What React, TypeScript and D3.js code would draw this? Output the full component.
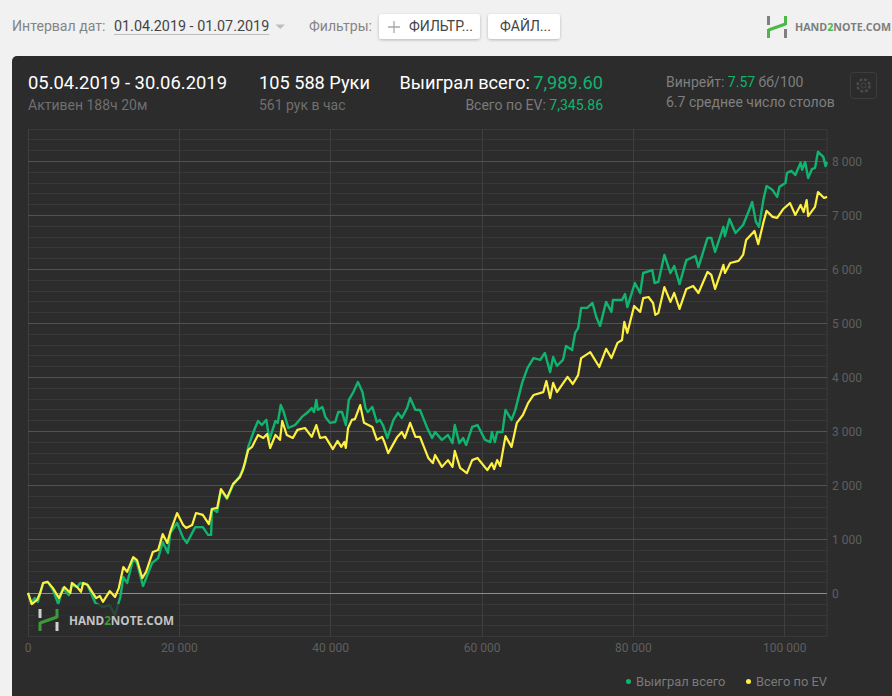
import { useEffect, useRef } from 'react';
import * as d3 from 'd3';

// Hands played (thousands) and winnings
const wonHands = [0, 0.4, 0.9, 1.3, 2.0, 2.6, 3.3, 4.0, 4.6, 5.4, 5.8, 6.5, 6.9, 7.8, 8.9, 9.9, 10.8, 11.5, 12.2, 12.6, 13.1, 13.9, 14.4, 15.2, 16.4, 17.2, 17.8, 18.5, 18.8, 19.7, 20.5, 21.0, 22.1, 23.1, 23.8, 24.2, 24.3, 25.0, 25.5, 26.3, 27.1, 28.0, 28.7, 29.1, 30.0, 30.4, 30.9, 31.5, 31.9, 32.7, 33.0, 33.4, 33.8, 34.4, 35.3, 36.2, 37.0, 37.5, 37.8, 38.1, 38.3, 38.9, 39.3, 39.9, 40.6, 41.0, 41.5, 42.0, 42.4, 43.0, 43.6, 44.2, 44.6, 44.9, 45.5, 46.1, 46.5, 46.9, 47.5, 48.3, 48.9, 49.4, 50.1, 50.5, 51.2, 51.8, 52.7, 53.4, 53.8, 54.7, 55.5, 56.1, 56.4, 57.0, 57.5, 57.9, 58.7, 59.4, 60.4, 61.1, 61.3, 61.7, 62.0, 62.7, 63.1, 63.9, 64.4, 65.3, 66.0, 66.8, 67.7, 68.3, 69.0, 69.4, 69.9, 70.7, 71.1, 71.9, 72.3, 72.7, 73.1, 73.9, 74.6, 75.1, 75.6, 76.4, 77.1, 77.3, 78.5, 78.9, 79.2, 80.2, 80.9, 81.3, 82.5, 82.8, 83.3, 84.1, 84.9, 85.4, 86.1, 87.0, 88.2, 88.6, 89.8, 90.3, 90.8, 91.9, 92.1, 92.7, 93.5, 94.5, 95.2, 95.7, 96.2, 96.6, 97.2, 97.6, 98.4, 99.0, 99.3, 100.1, 100.3, 100.9, 101.4, 102.1, 102.3, 102.7, 103.1, 103.6, 104.0, 104.4, 105.1, 105.4, 105.6];
const wonValues = [10, -175, -85, -155, 195, 215, 65, -195, 100, -30, 155, 120, 195, 175, -175, -250, -215, -400, -65, 305, 195, 640, 565, 140, 565, 655, 955, 750, 1120, 1305, 1030, 935, 1230, 1230, 1085, 1085, 1565, 1510, 1915, 1750, 2010, 2175, 2415, 2715, 3065, 3195, 3120, 3215, 2845, 3195, 3160, 3490, 3360, 3065, 3120, 3270, 3360, 3435, 3360, 3585, 3400, 3455, 3270, 3160, 3175, 3360, 3360, 3120, 3585, 3730, 3915, 3730, 3435, 3360, 3455, 3175, 3215, 3120, 2880, 3215, 3345, 3250, 3435, 3620, 3400, 3400, 3085, 2880, 2990, 2845, 2935, 2785, 3120, 2785, 2880, 2750, 3085, 3120, 2845, 2805, 2990, 2805, 2990, 2990, 3400, 3215, 3400, 3900, 4175, 4360, 4325, 4455, 4100, 4380, 4215, 4325, 4585, 4510, 4825, 4915, 5290, 5290, 5380, 5120, 4955, 5400, 5215, 5435, 5435, 5545, 5305, 5750, 5565, 5935, 5990, 5750, 5770, 6270, 5935, 6065, 5730, 6175, 6250, 6045, 6585, 6585, 6325, 6790, 6620, 6935, 6675, 6825, 7065, 7250, 6880, 6790, 7305, 7545, 7470, 7345, 7530, 7600, 7790, 7825, 7750, 7975, 7845, 7990, 7695, 7860, 7880, 8180, 8085, 7915, 7990];

const evHands = [0, 0.5, 1.2, 1.6, 2.0, 2.6, 3.3, 4.1, 4.8, 5.6, 5.8, 6.5, 7.0, 7.3, 7.9, 9.0, 9.5, 9.9, 10.8, 11.5, 12.0, 12.6, 13.1, 13.9, 14.4, 15.1, 15.6, 16.5, 17.2, 17.8, 18.4, 18.8, 19.7, 20.5, 20.9, 21.7, 22.2, 23.1, 23.9, 24.3, 25.0, 25.5, 26.3, 27.1, 28.0, 28.4, 29.1, 29.6, 30.4, 31.1, 31.6, 32.0, 32.7, 33.3, 33.6, 34.2, 35.0, 35.6, 36.6, 37.5, 38.1, 38.6, 39.3, 40.3, 40.9, 41.4, 41.8, 42.0, 42.3, 42.8, 43.2, 43.9, 44.4, 45.5, 46.1, 46.8, 47.1, 47.6, 48.8, 49.4, 49.8, 50.5, 51.2, 51.8, 52.9, 53.5, 53.8, 54.7, 55.5, 56.1, 56.4, 57.1, 58.0, 58.7, 59.4, 60.7, 61.3, 61.6, 62.0, 62.4, 63.1, 63.9, 64.6, 65.4, 66.1, 66.8, 68.1, 68.5, 69.0, 69.4, 69.9, 71.3, 72.0, 72.7, 73.1, 74.3, 75.5, 76.4, 77.1, 77.9, 78.5, 78.8, 79.2, 80.1, 80.9, 81.3, 82.0, 82.6, 82.9, 83.3, 84.1, 84.9, 85.4, 86.1, 87.0, 87.9, 88.6, 89.8, 90.3, 90.8, 91.9, 92.1, 92.8, 93.9, 94.5, 94.9, 96.0, 96.5, 97.2, 97.6, 98.4, 99.0, 99.8, 100.7, 101.4, 102.1, 102.5, 102.9, 103.1, 104.0, 104.4, 105.2, 105.6];
const evValues = [10, -195, -120, 10, 195, 215, 100, -85, 120, 10, 195, 120, 30, 195, 155, -85, -45, -155, 45, -65, 100, 490, 400, 675, 620, 285, 400, 770, 805, 1100, 935, 1140, 1490, 1270, 1215, 1270, 1490, 1455, 1285, 1565, 1585, 1935, 1770, 2030, 2155, 2285, 2660, 2715, 2935, 2880, 2955, 2695, 2935, 2845, 3195, 2935, 2880, 3030, 3065, 2900, 3120, 2880, 2900, 2675, 2825, 2715, 2805, 2695, 3065, 3215, 3230, 3490, 3160, 3085, 2845, 2900, 2805, 2600, 2900, 2990, 2880, 3160, 2900, 2900, 2510, 2415, 2565, 2345, 2470, 2345, 2640, 2325, 2230, 2470, 2510, 2285, 2415, 2305, 2470, 2360, 2915, 2715, 3160, 3305, 3530, 3675, 3730, 3935, 3620, 3900, 3730, 4010, 3880, 4045, 4360, 4470, 4195, 4530, 4360, 4640, 4695, 5030, 4825, 5325, 5215, 5470, 5490, 5380, 5160, 5195, 5675, 5400, 5565, 5270, 5640, 5695, 5565, 5955, 5900, 5640, 6085, 5935, 6120, 6160, 6270, 6545, 6715, 6470, 6880, 7085, 6975, 6955, 7120, 7230, 7010, 7195, 7065, 7285, 6990, 7160, 7435, 7325, 7345];

const xTicks = [0, 20000, 40000, 60000, 80000, 100000];
const yTicks = [0, 1000, 2000, 3000, 4000, 5000, 6000, 7000, 8000];
const minorTicks = d3.range(-800, 8700, 200);

const GREEN = '#10b46e';
const YELLOW = '#fdf041';
const UI_FONT = 'Roboto, sans-serif';

const spaced = (v: number) => d3.format(',')(v).replace(/,/g, ' ');

export default function App() {
    const ref = useRef<SVGSVGElement>(null);

    useEffect(() => {
        if (!ref.current) return;
        const svg = d3.select(ref.current);
        svg.selectAll('*').remove();

        const defs = svg.append('defs');
        const shadow = defs.append('filter').attr('id', 'btnShadow')
            .attr('x', '-10%').attr('y', '-20%').attr('width', '120%').attr('height', '150%');
        shadow.append('feDropShadow').attr('dx', 0).attr('dy', 1).attr('stdDeviation', 1.5)
            .attr('flood-color', '#000').attr('flood-opacity', 0.25);

        const label = (x: number, y: number, text: string, size: number, fill: string, anchor = 'start', weight = 400) =>
            svg.append('text').attr('x', x).attr('y', y).attr('font-size', size).attr('fill', fill)
                .attr('text-anchor', anchor).attr('font-weight', weight).text(text);

        // Logo mark
        const logo = (g: d3.Selection<SVGGElement, unknown, null, undefined>, grey: string, green: string) => {
            g.append('rect').attr('x', 0).attr('y', 0).attr('width', 3).attr('height', 9).attr('fill', grey);
            g.append('rect').attr('x', 17).attr('y', 13).attr('width', 3).attr('height', 9).attr('fill', grey);
            g.append('rect').attr('x', 0).attr('y', 13).attr('width', 3).attr('height', 9).attr('fill', green);
            g.append('rect').attr('x', 17).attr('y', 0).attr('width', 3).attr('height', 9).attr('fill', green);
            g.append('path').attr('d', 'M1.5 14 L18.5 8').attr('stroke', green).attr('stroke-width', 3).attr('fill', 'none');
        };

        // Page toolbar
        label(12, 31, 'Интервал дат:', 14.1, '#858585');
        label(114, 31, '01.04.2019 - 01.07.2019', 14.35, '#444444');
        svg.append('line').attr('x1', 114).attr('x2', 269).attr('y1', 34.5).attr('y2', 34.5).attr('stroke', '#bdbdbd');
        svg.append('path').attr('d', 'M275.5 24.5 h9.5 l-4.75 4.5 z').attr('fill', '#bdbdbd');
        label(309, 31, 'Фильтры:', 14, '#858585');
        svg.append('rect').attr('x', 379).attr('y', 14).attr('width', 101).attr('height', 25).attr('rx', 3)
            .attr('fill', '#fff').attr('filter', 'url(#btnShadow)');
        svg.append('path').attr('d', 'M388 27 h12 M394 21 v12').attr('stroke', '#a8a8a8').attr('stroke-width', 1.3);
        label(409, 31, 'ФИЛЬТР...', 14, '#444444');
        svg.append('rect').attr('x', 488).attr('y', 14).attr('width', 72).attr('height', 25).attr('rx', 3)
            .attr('fill', '#fff').attr('filter', 'url(#btnShadow)');
        label(500, 31, 'ФАЙЛ...', 14, '#444444');

        logo(svg.append('g').attr('transform', 'translate(767,16)'), '#808080', '#4cb848');
        const brand = label(795, 31, '', 10.7, '#7d7d7d', 'start', 700).attr('font-family', '"Open Sans", sans-serif');
        brand.append('tspan').text('HAND');
        brand.append('tspan').attr('fill', '#4cb848').text('2');
        brand.append('tspan').text('NOTE.COM');

        // Dark panel
        svg.append('rect').attr('x', 12).attr('y', 56).attr('width', 900).attr('height', 660).attr('rx', 5).attr('fill', '#2c2c2c');

        label(28, 89, '05.04.2019 - 30.06.2019', 18.4, '#ffffff');
        label(28, 110, 'Активен 188ч 20м', 14, '#6f6f6f');
        label(259, 89, '105 588 Руки', 18.2, '#ffffff');
        label(259, 110, '561 рук в час', 14, '#6f6f6f');

        label(530, 89, 'Выиграл всего:', 18.2, '#ffffff', 'end');
        label(603, 89, '7,989.60', 18.2, GREEN, 'end');
        const totalEv = label(603, 110, '', 14, '#7a7a7a', 'end');
        totalEv.append('tspan').text('Всего по EV: ');
        totalEv.append('tspan').attr('fill', GREEN).text('7,345.86');

        const winrate = label(666, 87, '', 14, '#7f7f7f');
        winrate.append('tspan').text('Винрейт: ');
        winrate.append('tspan').attr('fill', GREEN).text('7.57');
        winrate.append('tspan').text(' бб/100');
        label(666, 107, '6.7 среднее число столов', 14, '#7f7f7f');

        // Settings button
        svg.append('rect').attr('x', 850.5).attr('y', 72.5).attr('width', 26).attr('height', 26).attr('rx', 3)
            .attr('fill', 'none').attr('stroke', '#3d3d3d');
        svg.append('circle').attr('cx', 863.5).attr('cy', 85.5).attr('r', 6).attr('fill', 'none')
            .attr('stroke', '#4a4a4a').attr('stroke-width', 2.5).attr('stroke-dasharray', '3 1.7');
        svg.append('circle').attr('cx', 863.5).attr('cy', 85.5).attr('r', 2.5).attr('fill', 'none').attr('stroke', '#4a4a4a');

        // Scales
        const x = d3.scaleLinear().domain([0, 105588]).range([28, 827]);
        const y = d3.scaleLinear().domain([0, 8000]).range([593.5, 161.5]);
        const top = y(8600);
        const bottom = y(-800);

        // Grid
        svg.append('g').attr('shape-rendering', 'crispEdges').selectAll('line')
            .data(minorTicks.filter(d => d % 1000 !== 0)).join('line')
            .attr('x1', 28).attr('x2', 827).attr('y1', d => y(d)).attr('y2', d => y(d))
            .attr('stroke', '#383838');
        svg.append('g').attr('shape-rendering', 'crispEdges').selectAll('line').data(xTicks).join('line')
            .attr('x1', d => x(d)).attr('x2', d => x(d)).attr('y1', top).attr('y2', bottom)
            .attr('stroke', '#3f3f3f');
        svg.append('line').attr('x1', 827).attr('x2', 827).attr('y1', top).attr('y2', bottom).attr('stroke', '#3a3a3a');
        svg.append('g').attr('shape-rendering', 'crispEdges').selectAll('line').data(yTicks).join('line')
            .attr('x1', 28).attr('x2', 827).attr('y1', d => y(d)).attr('y2', d => y(d))
            .attr('stroke', d => (d === 0 ? '#8c8c8c' : '#525252'));

        // Series
        const line = d3.line<[number, number]>().x(d => x(d[0] * 1000)).y(d => y(d[1])).curve(d3.curveLinear);
        const won = wonHands.map((h, i) => [h, wonValues[i]] as [number, number]);
        const ev = evHands.map((h, i) => [h, evValues[i]] as [number, number]);
        svg.append('path').datum(won).attr('d', line).attr('fill', 'none').attr('stroke', GREEN)
            .attr('stroke-width', 2.4).attr('stroke-linejoin', 'round');
        svg.append('path').datum(ev).attr('d', line).attr('fill', 'none').attr('stroke', YELLOW)
            .attr('stroke-width', 2.2).attr('stroke-linejoin', 'round');

        // Watermark sits over the lines and dims them
        svg.append('rect').attr('x', 34).attr('y', 604).attr('width', 145).attr('height', 31)
            .attr('fill', '#2c2c2c').attr('fill-opacity', 0.8);
        logo(svg.append('g').attr('transform', 'translate(38.5,609)'), '#d0d0d0', '#3c9a3c');
        const mark = label(69, 625, '', 11.7, '#c4c4c4', 'start', 700).attr('font-family', '"Open Sans", sans-serif');
        mark.append('tspan').text('HAND');
        mark.append('tspan').attr('fill', '#3c9a3c').text('2');
        mark.append('tspan').text('NOTE.COM');

        // Axes labels
        svg.append('g').selectAll('text').data(xTicks).join('text')
            .attr('x', d => x(d)).attr('y', 652).attr('text-anchor', 'middle')
            .attr('font-size', 12).attr('fill', '#5f5f5f').text(d => spaced(d));
        svg.append('g').selectAll('text').data(yTicks).join('text')
            .attr('x', 832).attr('y', d => y(d) + 4)
            .attr('font-size', 12).attr('fill', '#5f5f5f').text(d => spaced(d));

        // Legend
        svg.append('circle').attr('cx', 628.5).attr('cy', 681.5).attr('r', 2.5).attr('fill', GREEN);
        label(636, 685.5, 'Выиграл всего', 12.9, '#7a7a7a');
        svg.append('circle').attr('cx', 748.5).attr('cy', 681.5).attr('r', 2.5).attr('fill', YELLOW);
        label(756, 685.5, 'Всего по EV', 12.9, '#7a7a7a');
    }, []);

    return (
        <svg
            ref={ref}
            width={892}
            height={696}
            style={{ position: 'absolute', left: 0, top: 0, background: '#f1f1f1', fontFamily: UI_FONT }}
        />
    );
}
